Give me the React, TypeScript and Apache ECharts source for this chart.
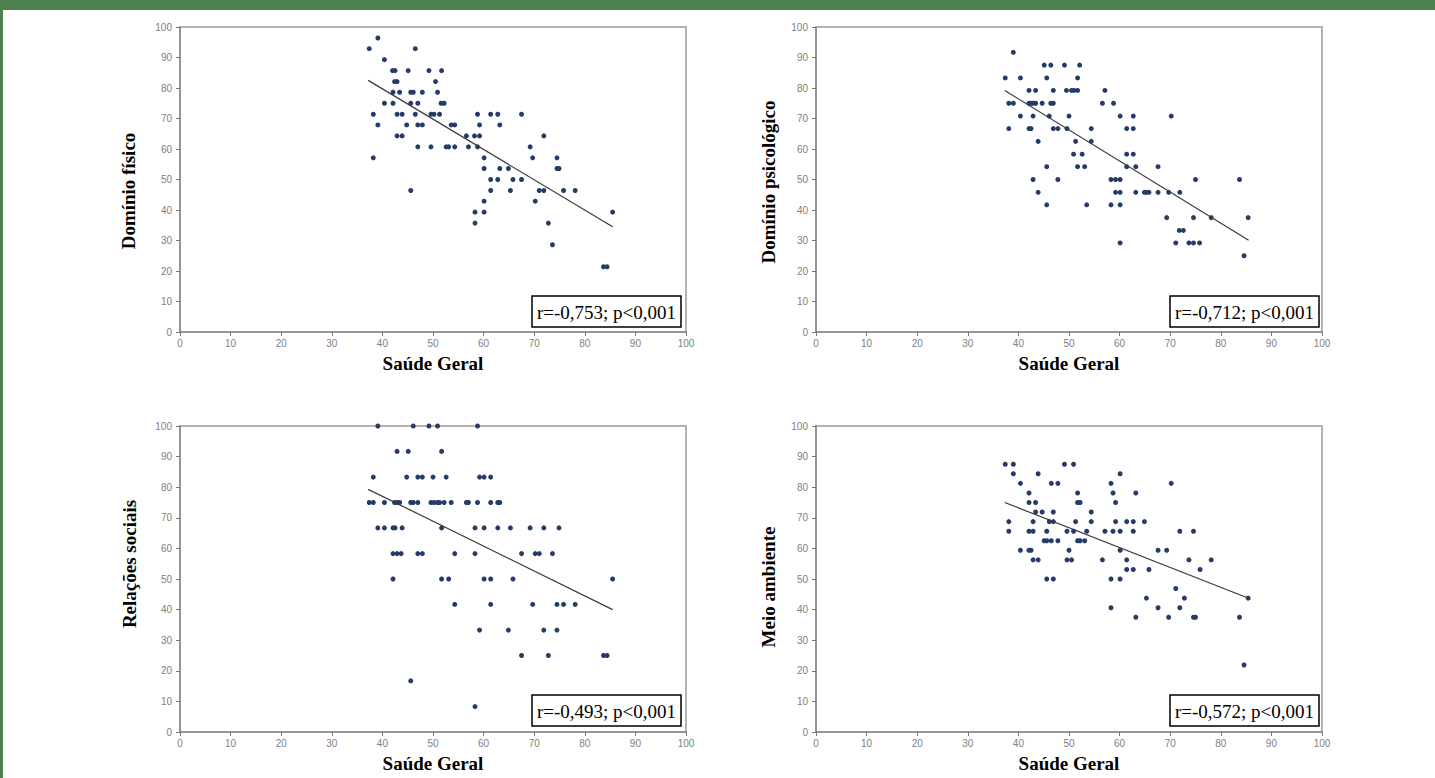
import React, { useEffect, useRef } from "react";
import * as echarts from "echarts";

const xTitle = "Saúde Geral";
const yTitles = ["Domínio físico", "Domínio psicológico", "Relações sociais", "Meio ambiente"];
const stats = ["r=-0,753; p<0,001", "r=-0,712; p<0,001", "r=-0,493; p<0,001", "r=-0,572; p<0,001"];

const fisico = [
  [39.1, 96.4],
  [37.4, 92.9], [46.5, 92.9],
  [40.4, 89.3],
  [42.0, 85.7], [42.5, 85.7], [45.1, 85.7], [49.2, 85.7], [51.7, 85.7],
  [42.4, 82.1], [42.9, 82.1], [50.5, 82.1],
  [42.1, 78.6], [43.4, 78.6], [45.6, 78.6], [46.1, 78.6], [47.9, 78.6], [50.9, 78.6],
  [40.4, 75], [42.1, 75], [45.6, 75], [47.0, 75], [51.6, 75], [52.2, 75],
  [38.2, 71.4], [42.9, 71.4], [43.9, 71.4], [46.5, 71.4], [49.6, 71.4], [50.2, 71.4], [51.3, 71.4], [58.8, 71.4], [61.4, 71.4], [62.8, 71.4], [67.5, 71.4],
  [39.1, 67.9], [44.8, 67.9], [47.0, 67.9], [47.9, 67.9], [53.6, 67.9], [54.3, 67.9], [59.2, 67.9], [63.2, 67.9],
  [42.9, 64.3], [43.9, 64.3], [56.6, 64.3], [58.2, 64.3], [59.2, 64.3], [71.9, 64.3],
  [47.0, 60.7], [49.6, 60.7], [52.6, 60.7], [53.1, 60.7], [54.3, 60.7], [57.0, 60.7], [58.8, 60.7], [69.2, 60.7],
  [38.2, 57.1], [60.1, 57.1], [69.7, 57.1], [74.5, 57.1],
  [60.1, 53.6], [63.2, 53.6], [64.9, 53.6], [74.5, 53.6], [74.9, 53.6],
  [61.4, 50], [62.8, 50], [65.8, 50], [67.5, 50],
  [45.6, 46.4], [61.4, 46.4], [65.3, 46.4], [71.0, 46.4], [71.9, 46.4], [75.8, 46.4], [78.1, 46.4],
  [60.1, 42.9], [70.2, 42.9],
  [58.3, 39.3], [60.1, 39.3], [85.5, 39.3],
  [58.3, 35.7], [72.8, 35.7],
  [73.6, 28.6],
  [83.7, 21.4], [84.4, 21.4],
];

const psicologico = [
  [39.0, 91.7],
  [45.1, 87.5], [46.4, 87.5], [49.1, 87.5], [52.1, 87.5],
  [37.4, 83.3], [40.4, 83.3], [45.6, 83.3], [51.7, 83.3],
  [42.1, 79.2], [43.4, 79.2], [46.9, 79.2], [49.5, 79.2], [50.5, 79.2], [51.0, 79.2], [51.7, 79.2], [57.1, 79.2],
  [38.1, 75], [39.0, 75], [42.1, 75], [42.5, 75], [42.9, 75], [43.4, 75], [44.7, 75], [46.4, 75], [46.9, 75], [56.6, 75], [58.8, 75],
  [40.4, 70.8], [42.9, 70.8], [46.1, 70.8], [50.0, 70.8], [60.1, 70.8], [62.7, 70.8], [70.2, 70.8],
  [38.1, 66.7], [42.1, 66.7], [42.5, 66.7], [46.9, 66.7], [47.8, 66.7], [49.6, 66.7], [54.4, 66.7], [61.4, 66.7], [62.7, 66.7],
  [43.9, 62.5], [51.3, 62.5], [54.4, 62.5],
  [50.9, 58.3], [52.6, 58.3], [61.4, 58.3], [62.7, 58.3],
  [45.6, 54.2], [51.7, 54.2], [53.1, 54.2], [61.4, 54.2], [63.2, 54.2], [67.6, 54.2],
  [42.9, 50], [47.8, 50], [58.3, 50], [59.2, 50], [60.1, 50], [75.0, 50], [83.7, 50],
  [43.9, 45.8], [59.2, 45.8], [60.1, 45.8], [63.2, 45.8], [64.9, 45.8], [65.3, 45.8], [65.8, 45.8], [67.6, 45.8], [69.7, 45.8], [71.9, 45.8],
  [45.6, 41.7], [53.5, 41.7], [58.3, 41.7], [60.1, 41.7],
  [69.3, 37.5], [74.6, 37.5], [78.1, 37.5], [85.4, 37.5],
  [71.8, 33.3], [72.6, 33.3],
  [60.1, 29.2], [71.1, 29.2], [73.7, 29.2], [74.6, 29.2], [75.8, 29.2],
  [84.6, 25],
];

const sociais = [
  [39.1, 100], [46.1, 100], [49.2, 100], [50.9, 100], [58.8, 100],
  [42.9, 91.7], [45.1, 91.7], [51.7, 91.7],
  [38.2, 83.3], [44.8, 83.3], [47.0, 83.3], [47.9, 83.3], [50.0, 83.3], [52.6, 83.3], [59.2, 83.3], [60.1, 83.3], [61.4, 83.3],
  [37.4, 75], [38.2, 75], [40.4, 75], [42.4, 75], [42.9, 75], [43.4, 75], [45.6, 75], [46.1, 75], [47.0, 75], [49.6, 75], [50.2, 75], [50.9, 75], [51.3, 75], [52.2, 75], [53.6, 75], [56.6, 75], [57.0, 75], [58.8, 75], [61.4, 75], [62.8, 75], [63.2, 75],
  [39.1, 66.7], [40.4, 66.7], [42.1, 66.7], [42.5, 66.7], [43.9, 66.7], [51.7, 66.7], [58.3, 66.7], [60.1, 66.7], [62.8, 66.7], [65.3, 66.7], [69.2, 66.7], [71.9, 66.7], [74.9, 66.7],
  [42.1, 58.3], [42.9, 58.3], [43.7, 58.3], [47.0, 58.3], [47.9, 58.3], [54.3, 58.3], [58.3, 58.3], [67.5, 58.3], [70.2, 58.3], [71.0, 58.3], [73.6, 58.3],
  [42.1, 50], [51.7, 50], [53.1, 50], [60.1, 50], [61.4, 50], [65.8, 50], [85.5, 50],
  [54.3, 41.7], [61.4, 41.7], [69.7, 41.7], [74.5, 41.7], [75.8, 41.7], [78.1, 41.7],
  [59.2, 33.3], [64.9, 33.3], [71.9, 33.3], [74.5, 33.3],
  [67.5, 25], [72.8, 25], [83.7, 25], [84.4, 25],
  [45.6, 16.7],
  [58.3, 8.3],
];

const ambiente = [
  [37.4, 87.5], [39.0, 87.5], [49.1, 87.5], [50.9, 87.5],
  [39.0, 84.4], [43.9, 84.4], [60.1, 84.4],
  [40.4, 81.25], [46.5, 81.25], [47.8, 81.25], [58.3, 81.25], [70.2, 81.25],
  [42.1, 78.1], [51.7, 78.1], [58.7, 78.1], [63.2, 78.1],
  [42.1, 75], [43.4, 75], [51.7, 75], [52.2, 75], [59.2, 75],
  [43.4, 71.9], [44.7, 71.9], [46.9, 71.9], [54.4, 71.9],
  [38.1, 68.75], [42.9, 68.75], [46.1, 68.75], [46.9, 68.75], [51.3, 68.75], [54.4, 68.75], [59.2, 68.75], [61.4, 68.75], [62.7, 68.75], [64.9, 68.75],
  [38.1, 65.6], [42.1, 65.6], [42.9, 65.6], [45.6, 65.6], [49.6, 65.6], [50.9, 65.6], [53.5, 65.6], [57.1, 65.6], [58.7, 65.6], [60.1, 65.6], [62.7, 65.6], [71.9, 65.6], [74.6, 65.6],
  [45.1, 62.5], [45.6, 62.5], [46.5, 62.5], [47.8, 62.5], [51.7, 62.5], [52.2, 62.5], [53.1, 62.5],
  [40.4, 59.4], [42.1, 59.4], [42.5, 59.4], [50.0, 59.4], [60.1, 59.4], [67.6, 59.4], [69.3, 59.4],
  [42.9, 56.25], [43.9, 56.25], [49.6, 56.25], [50.5, 56.25], [56.6, 56.25], [61.4, 56.25], [73.7, 56.25], [78.1, 56.25],
  [61.4, 53.1], [62.7, 53.1], [65.8, 53.1], [75.9, 53.1],
  [45.6, 50], [46.9, 50], [58.3, 50], [60.1, 50],
  [71.1, 46.9],
  [65.3, 43.75], [72.8, 43.75], [85.4, 43.75],
  [58.3, 40.6], [67.6, 40.6], [71.9, 40.6],
  [63.2, 37.5], [69.7, 37.5], [74.6, 37.5], [75.0, 37.5], [83.7, 37.5],
  [84.6, 21.9],
];

const fisicoTrend = [[37.2, 82.5], [85.5, 34.5]];
const psicologicoTrend = [[37.3, 79.2], [85.5, 30.1]];
const sociaisTrend = [[37.2, 79.3], [85.5, 40.0]];
const ambienteTrend = [[37.3, 75.0], [85.5, 43.7]];

const axisTicks = { min: 0, max: 100, interval: 10 };

export default function App() {
  const ref = useRef<HTMLDivElement>(null);

  useEffect(() => {
    if (!ref.current) return;
    const chart = echarts.init(ref.current, undefined, { renderer: "svg" });

    const grids = [
      { left: 180, top: 27, width: 506, height: 305 },
      { left: 816, top: 27, width: 506, height: 305 },
      { left: 180, top: 426, width: 506, height: 306 },
      { left: 816, top: 426, width: 506, height: 306 },
    ];
    const scatterSets = [fisico, psicologico, sociais, ambiente];
    const trendSets = [fisicoTrend, psicologicoTrend, sociaisTrend, ambienteTrend];

    const axisCommon = {
      type: "value" as const,
      min: axisTicks.min,
      max: axisTicks.max,
      interval: axisTicks.interval,
      splitLine: { show: false },
      axisLine: { show: true, lineStyle: { color: "#8a8a8a", width: 1.5 } },
      axisTick: { show: true, inside: false, length: 4, lineStyle: { color: "#777", width: 1 } },
    };

    const xAxes = grids.map((_, i) => ({
      ...axisCommon,
      gridIndex: i,
      axisLabel: { color: "#808080", fontSize: 10, fontFamily: "Liberation Sans", margin: 6 },
      name: xTitle,
      nameLocation: "middle",
      nameGap: 22,
      nameTextStyle: { fontFamily: "Liberation Serif", fontWeight: "bold", fontSize: 19, color: "#000" },
    }));
    const yAxes = grids.map((_, i) => ({
      ...axisCommon,
      gridIndex: i,
      axisLabel: { color: "#808080", fontSize: 10, fontFamily: "Liberation Sans", margin: 8 },
    }));

    const series: any[] = [];
    scatterSets.forEach((d, i) => {
      series.push({
        type: "scatter",
        xAxisIndex: i,
        yAxisIndex: i,
        data: d,
        symbolSize: 5,
        itemStyle: { color: "#253c6a", opacity: 1 },
        silent: true,
      });
      series.push({
        type: "line",
        xAxisIndex: i,
        yAxisIndex: i,
        data: trendSets[i],
        showSymbol: false,
        symbol: "none",
        lineStyle: { color: "#3a3a3a", width: 1.2 },
        silent: true,
      });
    });

    const titlePos = [
      [128, 191],
      [768, 182],
      [129, 564],
      [768, 587],
    ];
    const boxPos = [
      [532, 296],
      [1170, 296],
      [532, 695],
      [1170, 695],
    ];

    const graphic: any[] = [
      { type: "rect", shape: { x: 0, y: 0, width: 1435, height: 10 }, style: { fill: "#4e7f50" } },
      { type: "rect", shape: { x: 0, y: 0, width: 3, height: 778 }, style: { fill: "#4e7f50" } },
    ];
    yTitles.forEach((t, i) => {
      graphic.push({
        type: "text",
        x: titlePos[i][0],
        y: titlePos[i][1],
        rotation: Math.PI / 2,
        style: {
          text: t,
          font: 'bold 19px "Liberation Serif"',
          fill: "#000",
          textAlign: "center",
          textVerticalAlign: "middle",
        },
      });
    });
    stats.forEach((t, i) => {
      const [bx, by] = boxPos[i];
      graphic.push({
        type: "rect",
        shape: { x: bx, y: by, width: 149, height: 31 },
        style: { fill: "#fff", stroke: "#000", lineWidth: 1.5 },
        z: 10,
      });
      graphic.push({
        type: "text",
        x: bx + 74.5,
        y: by + 16,
        z: 11,
        style: {
          text: t,
          font: '19px "Liberation Serif"',
          fill: "#000",
          textAlign: "center",
          textVerticalAlign: "middle",
        },
      });
    });

    chart.setOption({
      animation: false,
      backgroundColor: "#fff",
      grid: grids.map((g) => ({ ...g, show: true, borderColor: "#b3b3b3", borderWidth: 2, backgroundColor: "transparent" })),
      xAxis: xAxes,
      yAxis: yAxes,
      series,
      graphic,
    });

    return () => chart.dispose();
  }, []);

  return (
    <div
      ref={ref}
      style={{ position: "absolute", left: 0, top: 0, width: 1435, height: 778 }}
    />
  );
}
